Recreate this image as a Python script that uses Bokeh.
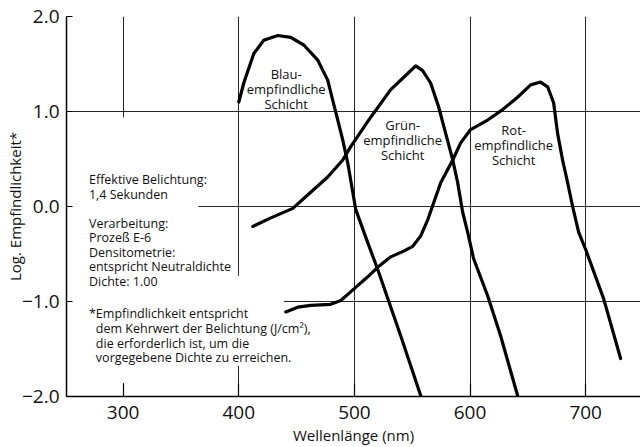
from bokeh.plotting import figure
from bokeh.models import Label, BoxAnnotation, FixedTicker, Range1d
from bokeh.embed import file_html
from bokeh.resources import INLINE

FONT = "Open Sans"

# ---- data ----
x_ticks = [300, 400, 500, 600, 700]
y_ticks = [-2, -1, 0, 1, 2]
y_tick_labels = ["\u22122.0", "\u22121.0", "0.0", "1.0", "2.0"]

blue_x = [400.0, 404.3, 413.0, 421.6, 433.7, 444.9, 456.2, 468.3, 476.9, 481.2,
          485.6, 489.9, 494.2, 501.1, 511.5, 520.1, 534.0, 540.0, 557.3]
blue_y = [1.10, 1.30, 1.61, 1.75, 1.80, 1.78, 1.70, 1.54, 1.33, 1.12,
          0.91, 0.70, 0.46, -0.03, -0.38, -0.66, -1.15, -1.36, -1.99]

green_x = [412.1, 427.7, 446.7, 462.2, 476.9, 489.9, 496.8, 514.1, 531.4, 546.1,
           553.0, 559.0, 565.9, 572.8, 578.9, 585.0, 589.3, 593.6, 597.9, 603.1,
           615.2, 626.4, 641.1]
green_y = [-0.21, -0.12, -0.02, 0.15, 0.31, 0.49, 0.63, 0.94, 1.23, 1.40,
           1.48, 1.43, 1.30, 1.05, 0.77, 0.49, 0.25, -0.06, -0.27, -0.55,
           -0.94, -1.36, -1.99]

red_x = [440.6, 451.0, 462.2, 479.5, 488.2, 499.4, 511.5, 520.1, 531.4, 542.6,
         550.4, 557.3, 563.4, 574.6, 585.0, 591.9, 600.5, 615.2, 628.2, 641.1,
         652.4, 661.0, 667.1, 672.3, 675.7, 680.0, 684.4, 688.7, 693.9, 699.9,
         715.5, 730.2]
red_y = [-1.11, -1.06, -1.04, -1.03, -0.99, -0.87, -0.74, -0.64, -0.53, -0.47,
         -0.42, -0.31, -0.14, 0.25, 0.49, 0.67, 0.81, 0.91, 1.02, 1.15,
         1.28, 1.31, 1.26, 1.09, 0.77, 0.49, 0.25, 0.00, -0.27, -0.45,
         -0.97, -1.60]

curve_label_lines = [["Blau-", "empfindliche", "Schicht"],
                     ["Gr\u00fcn-", "empfindliche", "Schicht"],
                     ["Rot-", "empfindliche", "Schicht"]]
curve_label_x = [441, 541.7, 637.7]
curve_label_y = [1.236, 0.70, 0.65]      # centre of the middle line

info_lines = ["Effektive Belichtung:", "1,4 Sekunden", "", "Verarbeitung:", "Proze\u00df E-6",
              "Densitometrie:", "entspricht Neutraldichte", "Dichte: 1.00"]
note_lines = ["Empfindlichkeit entspricht", "dem Kehrwert der Belichtung (J/cm\u00b2),",
              "die erforderlich ist, um die", "vorgegebene Dichte zu erreichen."]

# ---- figure ----
p = figure(width=640, height=447, x_range=Range1d(251, 747.4), y_range=Range1d(-2, 2),
           output_backend="svg", toolbar_location=None,
           min_border_left=66, min_border_right=0, min_border_top=16, min_border_bottom=49)
p.background_fill_color = "white"
p.border_fill_color = "white"
p.outline_line_color = None

p.xaxis.ticker = FixedTicker(ticks=x_ticks)
p.yaxis.ticker = FixedTicker(ticks=y_ticks)
p.yaxis.major_label_overrides = {t: l for t, l in zip(y_ticks, y_tick_labels)}
p.xgrid.ticker = FixedTicker(ticks=x_ticks)
p.ygrid.ticker = FixedTicker(ticks=y_ticks)
for g in (p.xgrid, p.ygrid):
    g.grid_line_color = "black"
    g.grid_line_width = 1
    g.grid_line_alpha = 0.85

for ax in (p.xaxis, p.yaxis):
    ax.axis_line_color = "black"
    ax.axis_line_width = 1.5
    ax.major_tick_line_color = "black"
    ax.major_tick_line_width = 1.2
    ax.major_tick_out = 0
    ax.minor_tick_line_color = None
    ax.major_label_text_font = FONT
    ax.major_label_text_font_size = "19px"
    ax.major_label_text_color = "#111111"
    ax.axis_label_text_font = FONT
    ax.axis_label_text_font_size = "15px"
    ax.axis_label_text_font_style = "normal"
    ax.axis_label_text_color = "#111111"

p.xaxis.major_tick_in = 13
p.yaxis.major_tick_in = 6
p.xaxis.major_label_standoff = 9
p.yaxis.major_label_standoff = 7
p.xaxis.axis_label = "Wellenl\u00e4nge (nm)"
p.yaxis.axis_label = "Log. Empfindlichkeit*"
p.xaxis.axis_label_standoff = 3
p.yaxis.axis_label_standoff = -6

# white patches behind the text blocks (gridlines are interrupted there)
p.add_layout(BoxAnnotation(left=255, right=365, top=0.94, bottom=-1.86,
                           fill_color="white", fill_alpha=1, line_color=None, level="underlay"))
p.add_layout(BoxAnnotation(left=255, right=439, top=-0.73, bottom=-1.68,
                           fill_color="white", fill_alpha=1, line_color=None, level="underlay"))

for xs, ys in ((blue_x, blue_y), (green_x, green_y), (red_x, red_y)):
    p.line(xs, ys, line_color="black", line_width=3.2, line_join="round", line_cap="round")

LSTEP = 0.157   # line spacing of the curve labels, in y units
for lines, x, yc in zip(curve_label_lines, curve_label_x, curve_label_y):
    for i, t in enumerate(lines):
        p.add_layout(Label(x=x, y=yc + (1 - i) * LSTEP, text=t, text_align="center",
                           text_baseline="middle", text_font=FONT, text_font_size="13px",
                           text_color="#111111"))

TSTEP = 0.153   # line spacing of the left text blocks, in y units
for i, t in enumerate(info_lines):
    if t:
        p.add_layout(Label(x=270.4, y=0.283 - i * TSTEP, text=t, text_align="left",
                           text_baseline="middle", text_font=FONT, text_font_size="12.5px",
                           text_color="#111111"))
p.add_layout(Label(x=270.4, y=-1.131, text="*", text_align="left", text_baseline="middle",
                   text_font=FONT, text_font_size="12.5px", text_color="#111111"))
for i, t in enumerate(note_lines):
    p.add_layout(Label(x=276.4, y=-1.131 - i * TSTEP, text=t, text_align="left",
                       text_baseline="middle", text_font=FONT, text_font_size="12.5px",
                       text_color="#111111"))

open("out.html", "w").write(file_html(p, INLINE))
